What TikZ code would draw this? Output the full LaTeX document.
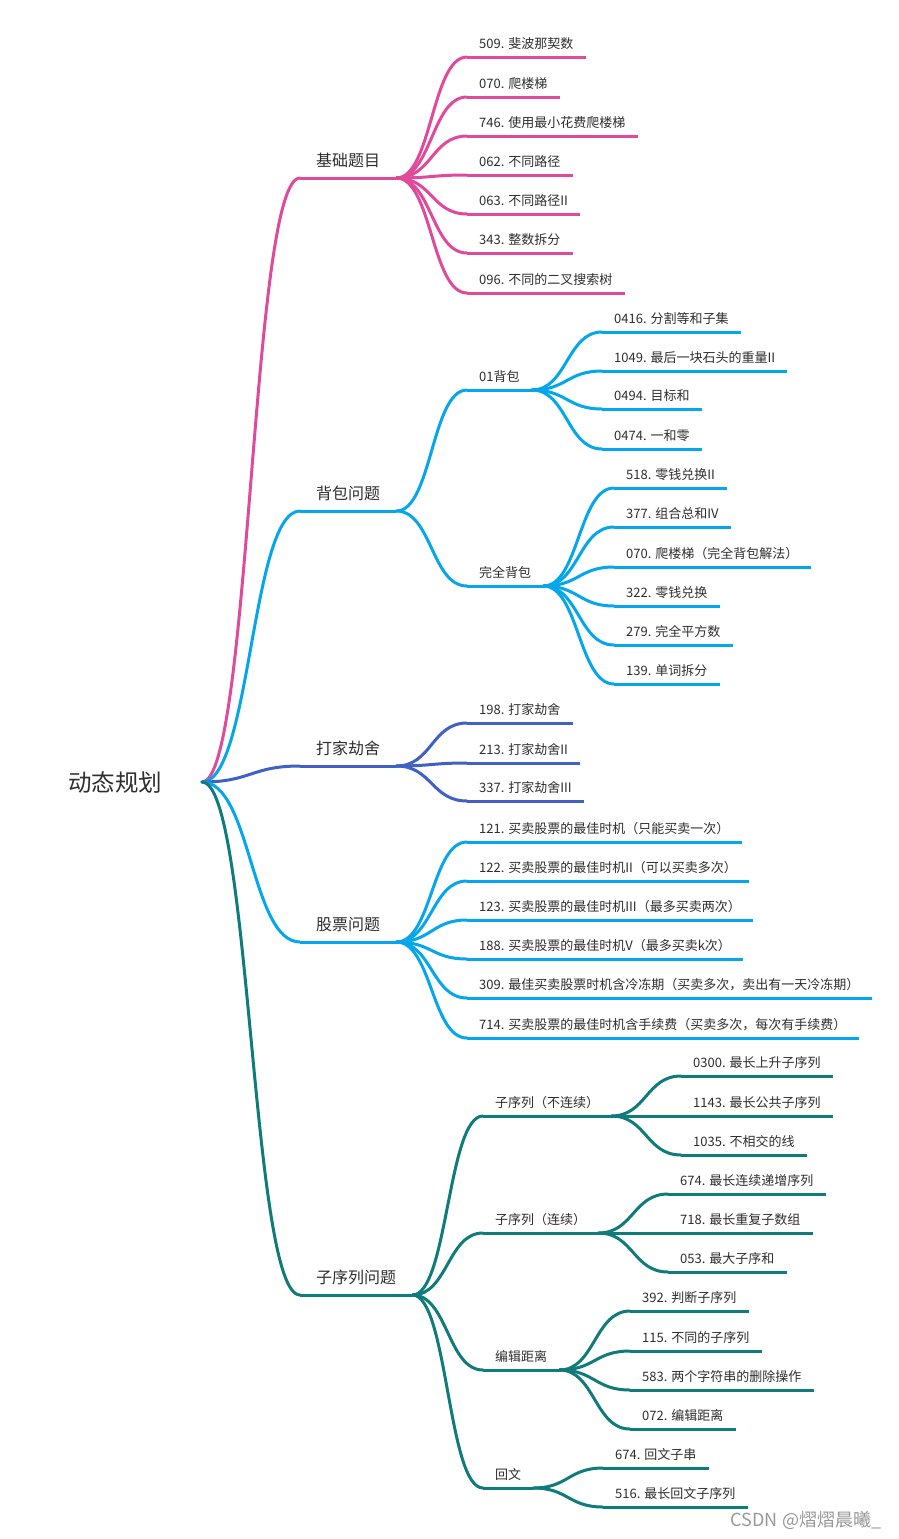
\documentclass[tikz,border=0pt]{standalone}
\usepackage{fontspec}
\setmainfont{Noto Sans CJK SC}
\usetikzlibrary{calc}
\definecolor{cpink}{HTML}{DF4A9B}
\definecolor{csky}{HTML}{06A6EC}
\definecolor{cind}{HTML}{4060C6}
\definecolor{cteal}{HTML}{0F7B7B}
\definecolor{ctext}{HTML}{2E2E2E}
\tikzset{
 lf/.style={anchor=south west, inner xsep=12pt, inner ysep=0pt, text depth=8.5pt, font=\fontsize{13}{15}\selectfont, text=ctext},
 lone/.style={anchor=south west, inner xsep=16pt, inner ysep=0pt, text depth=11pt, font=\fontsize{16}{19}\selectfont, text=ctext},
 uline/.style={line width=3pt, line cap=butt},
 conn/.style={line width=3pt, line cap=round},
}
\newcommand\topic[6]{%
  \node[#1] (#2) at (#4,#5) {#6};
  \draw[uline,#3] (#2.south west) -- (#2.south east);}
\newcommand\lnk[3]{\draw[conn,#1] let \p1=(#2), \p2=(#3) in (\p1) .. controls ({(\x1+\x2)/2},\y1) and ({(\x1+\x2)/2},\y2) .. (\p2);}
\begin{document}
\begin{tikzpicture}[x=1pt,y=-1pt]
\useasboundingbox (0,0) rectangle (899,1539);
\fill[white] (0,0) rectangle (899,1539);
% root
\node[font=\fontsize{23.5}{28}\selectfont, text=ctext] (root) at (115,783) {动态规划};
\coordinate (rc) at (202,782);
% level 1
\topic{lone}{A}{cpink}{300}{178}{基础题目}
\topic{lone}{B}{csky}{300}{511}{背包问题}
\topic{lone}{C}{cind}{300}{766}{打家劫舍}
\topic{lone}{D}{csky}{300}{942}{股票问题}
\topic{lone}{E}{cteal}{300}{1295}{子序列问题}
\lnk{cpink}{rc}{A.south west}
\lnk{csky}{rc}{B.south west}
\lnk{cind}{rc}{C.south west}
\lnk{csky}{rc}{D.south west}
\lnk{cteal}{rc}{E.south west}
% A
\topic{lf}{A1}{cpink}{467}{57}{509. 斐波那契数}
\topic{lf}{A2}{cpink}{467}{97}{070. 爬楼梯}
\topic{lf}{A3}{cpink}{467}{136}{746. 使用最小花费爬楼梯}
\topic{lf}{A4}{cpink}{467}{175}{062. 不同路径}
\topic{lf}{A5}{cpink}{467}{214}{063. 不同路径II}
\topic{lf}{A6}{cpink}{467}{253}{343. 整数拆分}
\topic{lf}{A7}{cpink}{467}{293}{096. 不同的二叉搜索树}
\foreach \i in {1,...,7}{\lnk{cpink}{A.south east}{A\i.south west}}
% B
\topic{lf}{B1}{csky}{467}{390}{01背包}
\topic{lf}{B2}{csky}{467}{586}{完全背包}
\lnk{csky}{B.south east}{B1.south west}
\lnk{csky}{B.south east}{B2.south west}
\topic{lf}{B11}{csky}{602}{332}{0416. 分割等和子集}
\topic{lf}{B12}{csky}{602}{371}{1049. 最后一块石头的重量II}
\topic{lf}{B13}{csky}{602}{409}{0494. 目标和}
\topic{lf}{B14}{csky}{602}{449}{0474. 一和零}
\foreach \i in {11,...,14}{\lnk{csky}{B1.south east}{B\i.south west}}
\topic{lf}{B21}{csky}{614}{488}{518. 零钱兑换II}
\topic{lf}{B22}{csky}{614}{527}{377. 组合总和IV}
\topic{lf}{B23}{csky}{614}{567}{070. 爬楼梯（完全背包解法）}
\topic{lf}{B24}{csky}{614}{606}{322. 零钱兑换}
\topic{lf}{B25}{csky}{614}{645}{279. 完全平方数}
\topic{lf}{B26}{csky}{614}{684}{139. 单词拆分}
\foreach \i in {21,...,26}{\lnk{csky}{B2.south east}{B\i.south west}}
% C
\topic{lf}{C1}{cind}{467}{723}{198. 打家劫舍}
\topic{lf}{C2}{cind}{467}{763}{213. 打家劫舍II}
\topic{lf}{C3}{cind}{467}{801}{337. 打家劫舍III}
\foreach \i in {1,...,3}{\lnk{cind}{C.south east}{C\i.south west}}
% D
\topic{lf}{D1}{csky}{467}{842}{121. 买卖股票的最佳时机（只能买卖一次）}
\topic{lf}{D2}{csky}{467}{881}{122. 买卖股票的最佳时机II（可以买卖多次）}
\topic{lf}{D3}{csky}{467}{920}{123. 买卖股票的最佳时机III（最多买卖两次）}
\topic{lf}{D4}{csky}{467}{959}{188. 买卖股票的最佳时机V（最多买卖k次）}
\topic{lf}{D5}{csky}{467}{998}{309. 最佳买卖股票时机含冷冻期（买卖多次，卖出有一天冷冻期）}
\topic{lf}{D6}{csky}{467}{1038}{714. 买卖股票的最佳时机含手续费（买卖多次，每次有手续费）}
\foreach \i in {1,...,6}{\lnk{csky}{D.south east}{D\i.south west}}
% E
\topic{lf}{E1}{cteal}{483}{1116}{子序列（不连续）}
\topic{lf}{E2}{cteal}{483}{1233}{子序列（连续）}
\topic{lf}{E3}{cteal}{483}{1370}{编辑距离}
\topic{lf}{E4}{cteal}{483}{1488}{回文}
\foreach \i in {1,...,4}{\lnk{cteal}{E.south east}{E\i.south west}}
\topic{lf}{E11}{cteal}{681}{1076}{0300. 最长上升子序列}
\topic{lf}{E12}{cteal}{681}{1116}{1143. 最长公共子序列}
\topic{lf}{E13}{cteal}{681}{1155}{1035. 不相交的线}
\foreach \i in {11,...,13}{\lnk{cteal}{E1.south east}{E\i.south west}}
\topic{lf}{E21}{cteal}{668}{1194}{674. 最长连续递增序列}
\topic{lf}{E22}{cteal}{668}{1233}{718. 最长重复子数组}
\topic{lf}{E23}{cteal}{668}{1272}{053. 最大子序和}
\foreach \i in {21,...,23}{\lnk{cteal}{E2.south east}{E\i.south west}}
\topic{lf}{E31}{cteal}{630}{1311}{392. 判断子序列}
\topic{lf}{E32}{cteal}{630}{1351}{115. 不同的子序列}
\topic{lf}{E33}{cteal}{630}{1390}{583. 两个字符串的删除操作}
\topic{lf}{E34}{cteal}{630}{1429}{072. 编辑距离}
\foreach \i in {31,...,34}{\lnk{cteal}{E3.south east}{E\i.south west}}
\topic{lf}{E41}{cteal}{603}{1468}{674. 回文子串}
\topic{lf}{E42}{cteal}{603}{1507}{516. 最长回文子序列}
\foreach \i in {41,42}{\lnk{cteal}{E4.south east}{E\i.south west}}
% watermark
\node[text=black!40, font=\fontsize{18}{20}\selectfont] (wm) at (806,1520) {CSDN @熠熠晨曦\_};
\end{tikzpicture}
\end{document}
